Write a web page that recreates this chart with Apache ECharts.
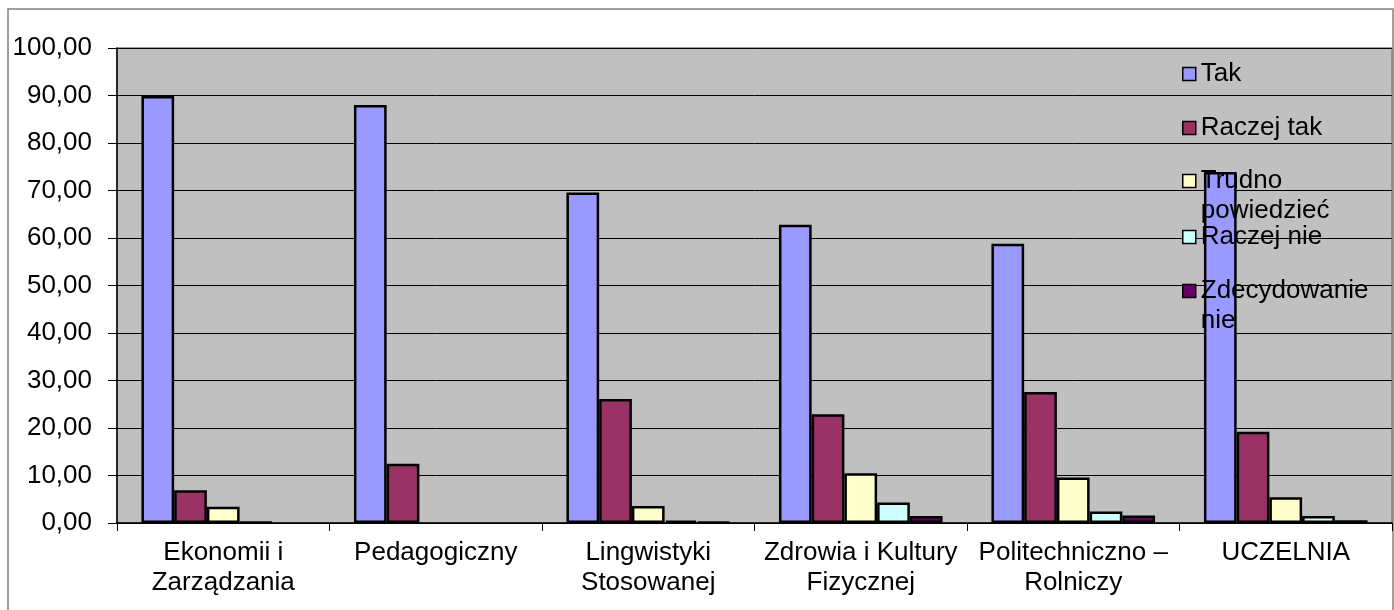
<!DOCTYPE html>
<html>
<head>
<meta charset="utf-8">
<script src="https://cdn.jsdelivr.net/npm/echarts@6/dist/echarts.min.js"></script>
<style>
  html, body { margin: 0; padding: 0; background: #fff; }
  #chart { width: 1394px; height: 610px; }
</style>
</head>
<body>
<div id="chart"></div>
<script>
const categories = ['Ekonomii i\nZarządzania', 'Pedagogiczny', 'Lingwistyki\nStosowanej', 'Zdrowia i Kultury\nFizycznej', 'Politechniczno –\nRolniczy', 'UCZELNIA'];
const seriesNames = ['Tak', 'Raczej tak', 'Trudno powiedzieć', 'Raczej nie', 'Zdecydowanie nie'];
// leading empty line keeps the first text line level with the icon
const legendLabels = ['Tak', 'Raczej tak', '\nTrudno\npowiedzieć', 'Raczej nie', '\nZdecydowanie\nnie'];
const colors = ['#9999ff', '#993366', '#ffffcc', '#ccffff', '#660066'];

const tak = [89.9, 88.0, 69.6, 62.8, 58.8, 73.9];
const raczejTak = [6.9, 12.5, 26.1, 22.9, 27.6, 19.2];
const trudno = [3.4, 0, 3.6, 10.5, 9.6, 5.4];
const raczejNie = [0.2, 0, 0.5, 4.3, 2.4, 1.5];
const zdecydowanieNie = [0, 0, 0.2, 1.5, 1.6, 0.6];
const values = [tak, raczejTak, trudno, raczejNie, zdecydowanieNie];

const yTicks = { min: 0, max: 100, interval: 10 };

const font = 'Liberation Sans, Arial, sans-serif';
const legendTops = [59, 113, 136, 222, 246];

const chart = echarts.init(document.getElementById('chart'));

chart.setOption({
  animation: false,
  backgroundColor: '#fff',
  textStyle: { fontFamily: font },
  graphic: [{
    type: 'rect',
    shape: { x: 8, y: 9, width: 1385, height: 640 },
    style: { fill: 'none', stroke: '#808080', lineWidth: 1.5 },
    silent: true, z: -1
  }],
  grid: {
    left: 117, top: 48, right: 2, bottom: 87,
    show: true, backgroundColor: '#c0c0c0', borderColor: '#808080', borderWidth: 1.5
  },
  legend: seriesNames.map((name, i) => ({
    orient: 'vertical',
    left: 1182,
    top: legendTops[i],
    padding: 0,
    data: [name],
    icon: 'rect',
    itemWidth: 13,
    itemHeight: 13,
    itemStyle: { borderColor: '#000', borderWidth: 1.5 },
    formatter: () => legendLabels[i],
    textStyle: { fontSize: 26, color: '#000', fontFamily: font, lineHeight: 30 },
    selectedMode: false
  })),
  xAxis: {
    type: 'category',
    data: categories,
    axisLine: { lineStyle: { color: '#000', width: 1.5 } },
    axisTick: { show: true, length: 8, lineStyle: { color: '#000' } },
    axisLabel: { color: '#000', fontSize: 26, lineHeight: 30, margin: 15, interval: 0, fontFamily: font },
    splitLine: { show: false }
  },
  yAxis: {
    type: 'value',
    min: yTicks.min, max: yTicks.max, interval: yTicks.interval,
    axisLine: { show: true, lineStyle: { color: '#000', width: 1.5 } },
    axisTick: { show: true, length: 9, lineStyle: { color: '#000' } },
    axisLabel: {
      color: '#000', fontSize: 26, margin: 25, fontFamily: font,
      formatter: (v) => v.toFixed(2).replace('.', ',')
    },
    splitLine: { lineStyle: { color: '#000', width: 1 } }
  },
  series: seriesNames.map((name, i) => ({
    name,
    type: 'bar',
    // zero answers draw no bar at all
    data: values[i].map((v) => (v === 0 ? '-' : v)),
    barGap: '0%',
    barCategoryGap: '23%',
    itemStyle: { color: colors[i], borderColor: '#000', borderWidth: 2.5 }
  }))
});
</script>
</body>
</html>
